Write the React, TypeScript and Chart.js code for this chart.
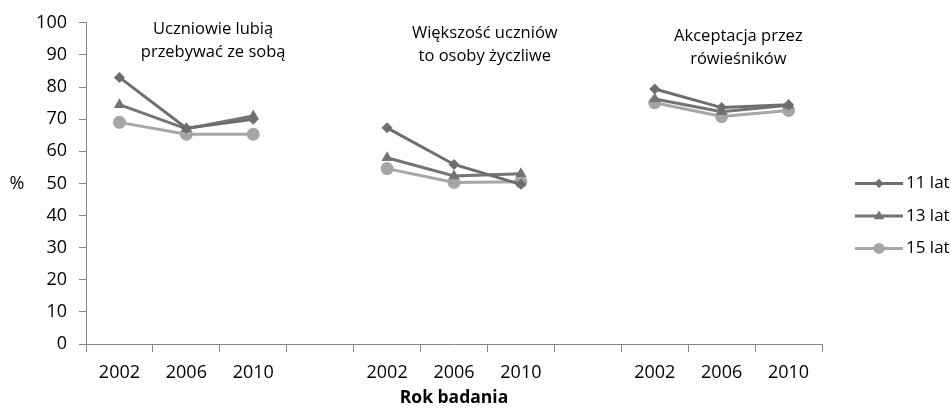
import React, { useEffect, useRef } from "react";
import { Chart, registerables } from "chart.js";

Chart.register(...registerables);

const categories = ["2002", "2006", "2010", "", "2002", "2006", "2010", "", "2002", "2006", "2010"];
const seriesNames = ["11 lat", "13 lat", "15 lat"];
const lat11 = [83, 67.2, 70, null, 67.3, 55.9, 49.7, null, 79.4, 73.6, 74.5];
const lat13 = [74.5, 67, 71, null, 58, 52.3, 53, null, 76.3, 72.3, 74.3];
const lat15 = [69, 65.3, 65.3, null, 54.6, 50.3, 50.5, null, 75.1, 70.8, 72.7];
const yTicks = [0, 10, 20, 30, 40, 50, 60, 70, 80, 90, 100];
const groupTitles = [
  ["Uczniowie lubią", "przebywać ze sobą"],
  ["Większość uczniów", "to osoby życzliwe"],
  ["Akceptacja przez", "rówieśników"],
];
const yTitle = "%";
const xTitle = "Rok badania";

const colors = ["#6e6e6e", "#747474", "#a6a6a6"];
const pointStyles = ["rectRot", "triangle", "circle"];
const pointRadii = [5.5, 6.5, 6.5];
const FONT = "'Open Sans', 'DejaVu Sans', sans-serif";

// annotation placement (category units / px offsets)
const titleX = [1.4, 5.46, 9.25];
const titleY = [6, 10, 13];

function drawMarker(ctx: CanvasRenderingContext2D, style: string, x: number, y: number, r: number) {
  ctx.beginPath();
  if (style === "rectRot") {
    ctx.moveTo(x, y - r);
    ctx.lineTo(x + r, y);
    ctx.lineTo(x, y + r);
    ctx.lineTo(x - r, y);
    ctx.closePath();
  } else if (style === "triangle") {
    ctx.moveTo(x, y - r);
    ctx.lineTo(x + r * 0.95, y + r * 0.6);
    ctx.lineTo(x - r * 0.95, y + r * 0.6);
    ctx.closePath();
  } else {
    ctx.arc(x, y, r, 0, Math.PI * 2);
  }
  ctx.fill();
}

const annotationPlugin = {
  id: "annotations",
  afterDraw(chart: any) {
    const ctx = chart.ctx as CanvasRenderingContext2D;
    const area = chart.chartArea;
    const step = (area.right - area.left) / categories.length;
    ctx.save();
    ctx.fillStyle = "#000";
    ctx.textAlign = "center";
    ctx.textBaseline = "middle";
    ctx.font = `16.5px ${FONT}`;
    groupTitles.forEach((lines, gi) => {
      const cx = area.left + (titleX[gi] + 0.5) * step;
      lines.forEach((t, li) => {
        ctx.fillText(t, cx, area.top + titleY[gi] + li * 23.5);
      });
    });
    // y title
    ctx.font = `18px ${FONT}`;
    ctx.fillText(yTitle, 17, (area.top + area.bottom) / 2);
    // x title
    ctx.font = `bold 17.5px ${FONT}`;
    ctx.fillText(xTitle, (area.left + area.right) / 2, area.bottom + 54);
    // legend
    const midY = (area.top + area.bottom) / 2;
    chart.data.datasets.forEach((ds: any, i: number) => {
      const y = midY + i * 32.5;
      const x0 = area.right + 33;
      ctx.strokeStyle = ds.borderColor;
      ctx.fillStyle = ds.borderColor;
      ctx.lineWidth = 3;
      ctx.beginPath();
      ctx.moveTo(x0, y);
      ctx.lineTo(x0 + 48, y);
      ctx.stroke();
      drawMarker(ctx, pointStyles[i], x0 + 24, y, pointRadii[i] * 0.85);
      ctx.fillStyle = "#000";
      ctx.textAlign = "left";
      ctx.font = `17px ${FONT}`;
      ctx.fillText(ds.label, x0 + 51, y);
    });
    ctx.restore();
  },
};

export default function App() {
  const ref = useRef<HTMLCanvasElement | null>(null);
  useEffect(() => {
    if (!ref.current) return;
    const series = [lat11, lat13, lat15];
    const chart = new Chart(ref.current, {
      type: "line",
      data: {
        labels: categories,
        datasets: series.map((d, i) => ({
          label: seriesNames[i],
          data: d,
          borderColor: colors[i],
          backgroundColor: colors[i],
          borderWidth: 3,
          pointStyle: pointStyles[i] as any,
          pointRadius: pointRadii[i],
          pointBorderWidth: 0,
          pointBackgroundColor: colors[i],
          spanGaps: false,
          tension: 0,
        })),
      },
      options: {
        animation: false,
        responsive: true,
        maintainAspectRatio: false,
        layout: { padding: { top: 22, right: 129, left: 0, bottom: 0 } },
        plugins: { legend: { display: false }, tooltip: { enabled: false } },
        scales: {
          x: {
            type: "category",
            offset: true,
            grid: { offset: true, drawOnChartArea: false, drawTicks: true, tickLength: 8, color: "#868686" },
            border: { color: "#868686", width: 1 },
            ticks: { color: "#000", font: { family: FONT, size: 18 }, padding: 10, autoSkip: false, maxRotation: 0 },
            afterFit: (s: any) => {
              s.height = 67;
            },
          },
          y: {
            min: 0,
            max: 100,
            afterBuildTicks: (s: any) => {
              s.ticks = yTicks.map((v) => ({ value: v }));
            },
            grid: { drawOnChartArea: false, drawTicks: true, tickLength: 7, color: "#868686" },
            border: { color: "#868686", width: 1 },
            ticks: { color: "#000", font: { family: FONT, size: 18 }, padding: 12 },
            afterFit: (s: any) => {
              s.width = 86;
            },
          },
        },
      },
      plugins: [annotationPlugin],
    });
    return () => chart.destroy();
  }, []);
  return (
    <div style={{ position: "absolute", left: 0, top: 0, width: 951, height: 411, background: "#fff" }}>
      <canvas ref={ref} />
    </div>
  );
}
